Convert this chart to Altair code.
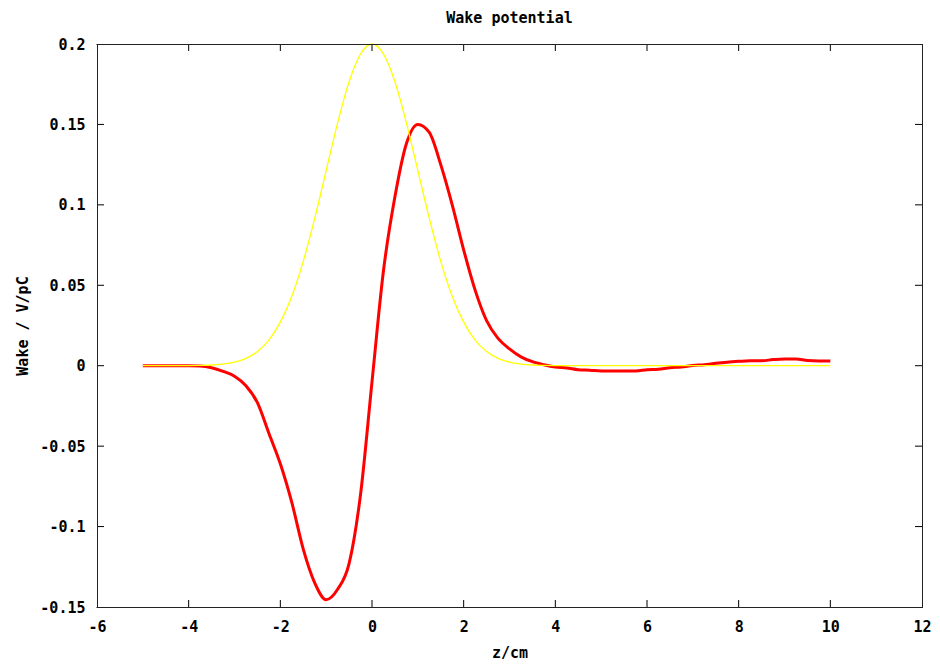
import altair as alt
import pandas as pd

# z positions (cm)
z = [-5.0, -4.75, -4.5, -4.25, -4.0, -3.75, -3.5, -3.25, -3.0, -2.75, -2.5, -2.25,
     -2.0, -1.75, -1.5, -1.25, -1.0, -0.75, -0.5, -0.25, 0.0, 0.25, 0.5, 0.75,
     1.0, 1.25, 1.5, 1.75, 2.0, 2.25, 2.5, 2.75, 3.0, 3.25, 3.5, 3.75,
     4.0, 4.25, 4.5, 4.75, 5.0, 5.25, 5.5, 5.75, 6.0, 6.25, 6.5, 6.75,
     7.0, 7.25, 7.5, 7.75, 8.0, 8.25, 8.5, 8.75, 9.0, 9.25, 9.5, 9.75, 10.0]

# wake potential (V/pC), red curve
wake = [0.0, 0.0, 0.0, 0.0, 0.0, -0.0002, -0.0013, -0.0035, -0.0065, -0.0125, -0.023, -0.042,
        -0.061, -0.085, -0.114, -0.135, -0.1455, -0.139, -0.123, -0.080, -0.010, 0.059, 0.105, 0.138,
        0.150, 0.145, 0.125, 0.100, 0.072, 0.047, 0.028, 0.017, 0.0105, 0.0055, 0.0025, 0.0006,
        -0.0008, -0.0014, -0.0025, -0.0028, -0.0033, -0.0033, -0.0033, -0.0033, -0.0025, -0.0022, -0.0012, -0.0008,
        0.0002, 0.0006, 0.0015, 0.0022, 0.0027, 0.0031, 0.0031, 0.0038, 0.0042, 0.0042, 0.0032, 0.0029, 0.0029]

# bunch profile (scaled), yellow curve
bunch = [0.0, 0.0, 0.0, 0.0, 0.00007, 0.0002, 0.00044, 0.00102, 0.00222, 0.00456, 0.00879, 0.0159,
         0.0271, 0.0432, 0.0649, 0.0916, 0.1213, 0.151, 0.1765, 0.1938, 0.2, 0.1938, 0.1765, 0.151,
         0.1213, 0.0916, 0.0649, 0.0432, 0.0271, 0.0159, 0.00879, 0.00456, 0.00222, 0.00102, 0.00044, 0.0002,
         0.00007, 0.0, 0.0, 0.0, 0.0, 0.0, 0.0, 0.0, 0.0, 0.0, 0.0, 0.0,
         0.0, 0.0, 0.0, 0.0, 0.0, 0.0, 0.0, 0.0, 0.0, 0.0, 0.0, 0.0, 0.0]

x_ticks = [-6, -4, -2, 0, 2, 4, 6, 8, 10, 12]
y_ticks = [-0.15, -0.1, -0.05, 0.0, 0.05, 0.1, 0.15, 0.2]
x_inner = x_ticks[1:-1]
y_inner = y_ticks[1:-1]

W, H = 825, 563
FONT = "DejaVu Sans Mono"
FS = 15

df = pd.DataFrame({
    "z": z * 2,
    "w": wake + bunch,
    "series": ["wake"] * len(z) + ["bunch"] * len(z),
})
df_x = pd.DataFrame({"z": x_inner})
df_y = pd.DataFrame({"w": y_inner})
df_one = pd.DataFrame({"k": [0]})

xscale = alt.Scale(domain=[-6, 12], nice=False, zero=False)
yscale = alt.Scale(domain=[-0.15, 0.2], nice=False, zero=False)

xaxis = alt.Axis(values=x_ticks, format="d", ticks=False, domain=False, grid=False,
                 labelExpr="replace(datum.label, '\u2212', '-')",
                 labelFont=FONT, labelFontSize=FS, labelFontWeight="bold", labelColor="black",
                 labelPadding=12, labelFlush=False, labelOverlap=False,
                 title="z/cm", titleFont=FONT, titleFontSize=FS, titleFontWeight="bold",
                 titleColor="black", titleX=W / 2, titleY=45, titleBaseline="middle")
yaxis = alt.Axis(values=y_ticks, format=".2~f", ticks=False, domain=False, grid=False,
                 labelExpr="replace(datum.label, '\u2212', '-')",
                 labelFont=FONT, labelFontSize=FS, labelFontWeight="bold", labelColor="black",
                 labelPadding=12, labelFlush=False, labelOverlap=False,
                 title="Wake / V/pC", titleFont=FONT, titleFontSize=FS, titleFontWeight="bold",
                 titleColor="black", titleX=-75, titleY=H / 2, titleBaseline="middle",
                 titleAngle=270, titleAlign="center")

red = alt.Chart(df[df.series == "wake"]).mark_line(color="#ff0000", strokeWidth=3,
                                                   interpolate="monotone").encode(
    x=alt.X("z:Q", scale=xscale, axis=xaxis),
    y=alt.Y("w:Q", scale=yscale, axis=yaxis),
)
yellow = alt.Chart(df[df.series == "bunch"]).mark_line(color="#ffff00", strokeWidth=1.3,
                                                       interpolate="monotone").encode(
    x=alt.X("z:Q", scale=xscale),
    y=alt.Y("w:Q", scale=yscale),
)

tick_style = dict(color="black", strokeWidth=1)
bot = alt.Chart(df_x).mark_rule(**tick_style).encode(
    x=alt.X("z:Q", scale=xscale), y=alt.value(H), y2=alt.value(H - 7))
top = alt.Chart(df_x).mark_rule(**tick_style).encode(
    x=alt.X("z:Q", scale=xscale), y=alt.value(0), y2=alt.value(7))
left = alt.Chart(df_y).mark_rule(**tick_style).encode(
    y=alt.Y("w:Q", scale=yscale), x=alt.value(0), x2=alt.value(7))
right = alt.Chart(df_y).mark_rule(**tick_style).encode(
    y=alt.Y("w:Q", scale=yscale), x=alt.value(W), x2=alt.value(W - 7))

# frame around the plot area
fr_style = dict(color="#222222", strokeWidth=1)
fr_top = alt.Chart(df_one).mark_rule(**fr_style).encode(
    x=alt.value(-0.5), x2=alt.value(W + 0.5), y=alt.value(0.5))
fr_bot = alt.Chart(df_one).mark_rule(**fr_style).encode(
    x=alt.value(-0.5), x2=alt.value(W + 0.5), y=alt.value(H + 0.5))
fr_left = alt.Chart(df_one).mark_rule(**fr_style).encode(
    x=alt.value(0.5), y=alt.value(0), y2=alt.value(H + 1))
fr_right = alt.Chart(df_one).mark_rule(**fr_style).encode(
    x=alt.value(W + 0.5), y=alt.value(0), y2=alt.value(H + 1))

chart = alt.layer(red, yellow, bot, top, left, right,
                  fr_top, fr_bot, fr_left, fr_right).properties(
    width=W, height=H,
    title=alt.TitleParams("Wake potential", font=FONT, fontSize=FS, fontWeight="bold",
                          color="black", offset=11, anchor="middle"),
    autosize=alt.AutoSizeParams(type="none"),
    padding={"left": 97, "top": 44, "right": 18, "bottom": 58},
).configure(background="white").configure_view(strokeWidth=0)

chart.save("out.html", embed_options={"renderer": "svg", "actions": False})
